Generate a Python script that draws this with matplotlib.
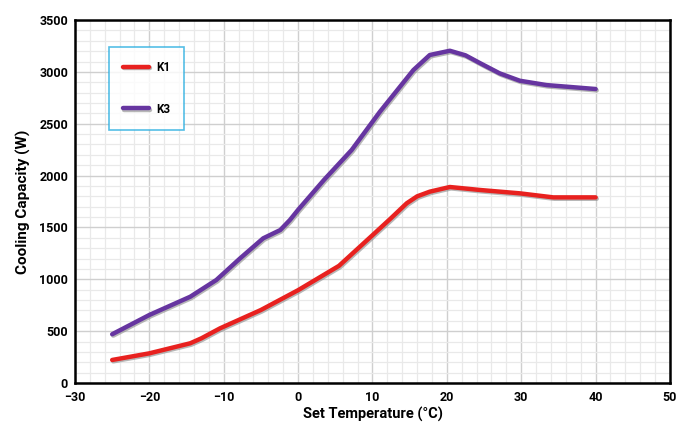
import matplotlib
matplotlib.use('Agg')
import matplotlib.pyplot as plt
import matplotlib.patheffects as pe
from matplotlib.ticker import MultipleLocator

plt.rcParams['font.family'] = ['Roboto', 'DejaVu Sans']

# Werte
temp_k1 = [-25, -20, -14.5, -13, -10.5, -5, 0, 5.5, 10, 12.5, 14.6, 16, 17.7, 20.4, 24.5, 29.8, 34.3, 40]
cap_k1 = [222, 286, 383, 431, 527, 704, 895, 1130, 1425, 1590, 1733, 1800, 1845, 1890, 1861, 1829, 1790, 1790]

temp_k3 = [-25, -20, -14.5, -11, -7.8, -4.7, -2.4, -1.1, 0, 3.5, 7.2, 11, 15.5, 17.7, 20.4, 22.5, 24.5, 27.1, 29.8, 33.4, 40]
cap_k3 = [470, 656, 832, 993, 1202, 1395, 1475, 1572, 1670, 1960, 2247, 2616, 3018, 3163, 3204, 3160, 3083, 2986, 2915, 2873, 2835]

x_ticks = [-30, -20, -10, 0, 10, 20, 30, 40, 50]
y_ticks = [0, 500, 1000, 1500, 2000, 2500, 3000, 3500]

fig = plt.figure(figsize=(6.93, 4.23), dpi=100)
ax = fig.add_axes([0.1082, 0.0946, 0.8586, 0.858])

shadow = [pe.SimpleLineShadow(offset=(0.8, -1.0), shadow_color='#888888', alpha=0.6), pe.Normal()]
ax.plot(temp_k1, cap_k1, color='#e8211f', lw=3.2, solid_capstyle='round', solid_joinstyle='round',
        label='K1', path_effects=shadow, zorder=3)
ax.plot(temp_k3, cap_k3, color='#6635a0', lw=3.2, solid_capstyle='round', solid_joinstyle='round',
        label='K3', path_effects=shadow, zorder=3)

ax.set_xlim(-30, 50)
ax.set_ylim(0, 3500)
ax.set_xticks(x_ticks)
ax.set_yticks(y_ticks)
ax.xaxis.set_minor_locator(MultipleLocator(2))
ax.yaxis.set_minor_locator(MultipleLocator(100))
ax.grid(which='major', color='#cfcfcf', lw=1.0, zorder=0)
ax.grid(which='minor', color='#e9e9e9', lw=0.9, zorder=0)
ax.set_axisbelow(True)
ax.tick_params(which='both', length=0, labelsize=9)
ax.tick_params(axis='x', pad=6)
ax.tick_params(axis='y', pad=5)
for lbl in ax.get_xticklabels() + ax.get_yticklabels():
    lbl.set_fontweight('bold')

for sp in ax.spines.values():
    sp.set_linewidth(1.8)
    sp.set_color('black')

ax.set_xlabel('Set Temperature (°C)', fontsize=10.5, fontweight='bold', labelpad=2)
ax.set_ylabel('Cooling Capacity (W)', fontsize=11, fontweight='bold', labelpad=6)

leg = ax.legend(loc='upper left', bbox_to_anchor=(0.047, 0.942), frameon=True, fancybox=False,
                edgecolor='#2aaee0', handlelength=2.2, handletextpad=0.6,
                labelspacing=2.4, borderpad=1.2, prop={'weight': 'bold', 'size': 8.5})
leg.get_frame().set_linewidth(1.2)

fig.savefig('out.png', dpi=100)
